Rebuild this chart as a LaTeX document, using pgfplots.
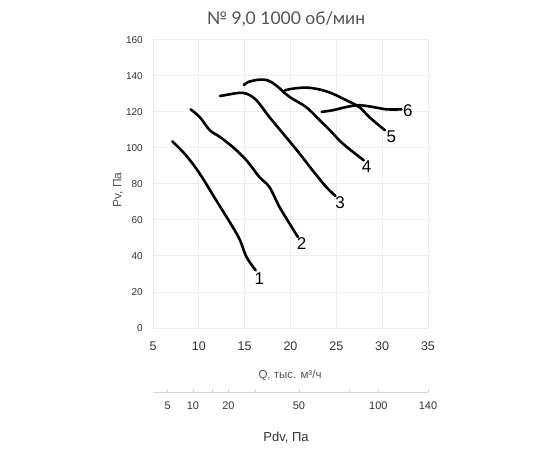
\documentclass[border=0pt]{standalone}
\usepackage{pgfplots}
\pgfplotsset{compat=1.18}
\usepackage{fontspec}
\setmainfont{Liberation Sans}
\newfontfamily\titlefont{Lato}
\definecolor{gridc}{HTML}{EDEDED}
\definecolor{txt}{HTML}{333333}
\definecolor{lbl}{HTML}{555555}
\tikzset{curve/.style={black, line width=2.6pt, smooth, tension=0.55, mark=none, line cap=round}}
\begin{document}
\begin{tikzpicture}
\useasboundingbox (0pt,0pt) rectangle (550pt,450pt);
\begin{axis}[at={(153pt,122pt)}, anchor=south west, scale only axis,
  width=275pt, height=288.4pt,
  xmin=5, xmax=35, ymin=0, ymax=160,
  xtick={5,10,...,35}, ytick={0,20,...,160},
  grid=major, grid style={gridc, line width=0.8pt},
  axis line style={draw=none}, major tick length=0pt,
  /pgf/number format/assume math mode=true,
  xticklabel style={txt, font=\fontsize{12.5}{12.5}\selectfont, anchor=center, yshift=-18pt},
  yticklabel style={txt, font=\fontsize{10}{10}\selectfont, anchor=east, inner sep=0pt, xshift=-10pt},
  clip=false]
\addplot[curve] coordinates {(7.1,103.6) (8.6,95.8) (10.1,85.6) (11.9,70.8) (13.7,56) (14.5,48.6) (15.2,39.4) (16.2,32)};
\addplot[curve] coordinates {(9.1,121.3) (10.1,117) (11.2,109.7) (12.3,106) (13.7,100.4) (15.2,93) (16.6,83.8) (17.7,78.2) (18.8,67.1) (19.9,57.9) (20.8,50.5)};
\addplot[curve] coordinates {(12.3,128.7) (13,129.3) (14.3,130.4) (15.2,130) (16.3,126.3) (17.7,117) (19.5,106) (21,96.7) (22.4,87.5) (23.9,78.2) (24.9,73.3)};
\addplot[curve] coordinates {(14.9,134.7) (15.4,136.5) (16.6,137.8) (17.5,137.4) (18.4,134.7) (19.9,128.2) (21.7,122.6) (23.2,115.2) (24.3,109.7) (25.7,102.3) (28,93)};
\addplot[curve] coordinates {(19.4,131.9) (20.3,132.8) (21.7,133.4) (23.2,132.3) (24.6,130) (26.1,126.3) (27.5,122.6) (28.6,117) (30.3,109.7)};
\addplot[curve] coordinates {(23.4,119.9) (24.6,120.8) (26.1,122.6) (27.5,123.6) (29,122.6) (30.5,121.3) (32.1,121.3)};
\begin{scope}[font=\fontsize{17}{17}\selectfont]
\node at (axis cs:16.6,27.4) {1};
\node at (axis cs:21.2,46.8) {2};
\node at (axis cs:25.4,69.4) {3};
\node at (axis cs:28.3,89.3) {4};
\node at (axis cs:31.0,106) {5};
\node at (axis cs:32.8,120.8) {6};
\end{scope}
\end{axis}
\begin{axis}[at={(153pt,58pt)}, anchor=south west, scale only axis,
  width=275pt, height=10pt,
  xmin=5, xmax=35, ymin=0, ymax=1,
  axis x line=bottom, axis y line=none,
  x axis line style={-, draw=gridc!80!gray, line width=0.8pt},
  xtick={6.614,9.354,13.229,20.917,29.580,35.0},
  xticklabels={5,10,20,50,100,140},
  extra x ticks={11.456,16.202,26.458},
  extra x tick labels={},
  tick align=inside, major tick length=3pt,
  tick style={gridc!80!gray, line width=0.6pt},
  xticklabel style={txt, font=\fontsize{11}{11}\selectfont, anchor=center, yshift=-14pt}]
\end{axis}
\node[txt!85, font=\titlefont\fontsize{17.5}{17.5}\selectfont] at (286pt,431pt) {№ 9,0 1000 об/мин};
\node[lbl, font=\fontsize{11.5}{11.5}\selectfont] at (290pt,75pt) {Q, тыс. м³/ч};
\node[txt, font=\fontsize{13}{13}\selectfont] at (286pt,12pt) {Pdv, Па};
\node[lbl, font=\fontsize{12}{12}\selectfont, rotate=90] at (118pt,260pt) {Pv, Па};
\end{tikzpicture}
\end{document}
